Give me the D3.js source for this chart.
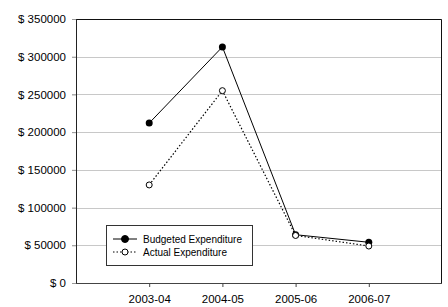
<!DOCTYPE html>
<html>
<head>
<meta charset="utf-8">
<script src="https://cdn.jsdelivr.net/npm/d3@7"></script>
<style>
  body { margin: 0; background: #fff; }
  text { font-family: "Liberation Sans", Arial, sans-serif; fill: #000; }
</style>
</head>
<body>
<script>
var years = ["2003-04", "2004-05", "2005-06", "2006-07"];
var budgeted = [212000, 313000, 64000, 54000];
var actual = [130000, 255000, 63000, 49000];
var yTicks = [0, 50000, 100000, 150000, 200000, 250000, 300000, 350000];

var width = 448, height = 307;
var margin = { left: 76, right: 6, top: 19, bottom: 24 };
var plotW = width - margin.left - margin.right;
var plotH = height - margin.top - margin.bottom;

var svg = d3.select("body").append("svg")
  .attr("width", width)
  .attr("height", height);

var g = svg.append("g")
  .attr("transform", "translate(" + margin.left + "," + margin.top + ")");

// categories sit on positions 1..4 of a 0..5 axis
var x = d3.scaleLinear().domain([0, years.length + 1]).range([0, plotW]);
var y = d3.scaleLinear().domain([0, 350000]).range([plotH, 0]);

// gridlines
g.append("g")
  .selectAll("line")
  .data(yTicks.slice(1))
  .enter().append("line")
  .attr("x1", -4)
  .attr("x2", plotW)
  .attr("y1", function(d) { return Math.round(y(d)) + 0.5; })
  .attr("y2", function(d) { return Math.round(y(d)) + 0.5; })
  .attr("stroke", "#c8c8c8")
  .attr("stroke-width", 1);

// plot border (top/right)
g.append("path")
  .attr("d", "M0.5,0.5H" + (plotW - 0.5) + "V" + plotH)
  .attr("fill", "none")
  .attr("stroke", "#111")
  .attr("stroke-width", 1);

// y axis
var yAxis = d3.axisLeft(y)
  .tickValues(yTicks)
  .tickSize(4)
  .tickPadding(6)
  .tickFormat(function(d) { return "$ " + d; });
var ya = g.append("g").call(yAxis);
ya.select(".domain").attr("stroke", "#222").attr("d", "M0.5,0V" + plotH);
ya.selectAll(".tick line").attr("stroke", "#999");
ya.selectAll("text").style("font-size", "11.5px").attr("fill", "#000");

// x axis
var xAxis = d3.axisBottom(x)
  .tickValues(d3.range(1, years.length + 1))
  .tickSize(4)
  .tickPadding(8)
  .tickFormat(function(d) { return years[d - 1]; });
var xa = g.append("g")
  .attr("transform", "translate(0," + plotH + ")")
  .call(xAxis);
xa.select(".domain").attr("stroke", "#444").attr("d", "M0,0.5H" + plotW);
xa.selectAll(".tick line").attr("stroke", "#444");
xa.selectAll("text").style("font-size", "11.5px").attr("fill", "#000");

var line = d3.line()
  .x(function(d, i) { return x(i + 1); })
  .y(function(d) { return y(d); });

// budgeted
g.append("path")
  .attr("d", line(budgeted))
  .attr("fill", "none")
  .attr("stroke", "#000")
  .attr("stroke-width", 1);

// actual
g.append("path")
  .attr("d", line(actual))
  .attr("fill", "none")
  .attr("stroke", "#000")
  .attr("stroke-width", 1.2)
  .attr("stroke-dasharray", "1.5,2");

g.selectAll("circle.budget")
  .data(budgeted)
  .enter().append("circle")
  .attr("class", "budget")
  .attr("cx", function(d, i) { return x(i + 1); })
  .attr("cy", function(d) { return y(d); })
  .attr("r", 3.5)
  .attr("fill", "#000");

g.selectAll("circle.actual")
  .data(actual)
  .enter().append("circle")
  .attr("class", "actual")
  .attr("cx", function(d, i) { return x(i + 1); })
  .attr("cy", function(d) { return y(d); })
  .attr("r", 3)
  .attr("fill", "#fff")
  .attr("stroke", "#000")
  .attr("stroke-width", 1);

// legend
var legend = svg.append("g").attr("transform", "translate(106,225)");
legend.append("rect")
  .attr("x", 0.5).attr("y", 0.5)
  .attr("width", 146).attr("height", 40)
  .attr("fill", "#fff")
  .attr("stroke", "#333")
  .attr("stroke-width", 1);

var items = [
  { name: "Budgeted Expenditure", dash: null, fill: "#000", r: 3.5 },
  { name: "Actual Expenditure", dash: "1.5,2", fill: "#fff", r: 3 }
];
items.forEach(function(it, i) {
  var ly = 14 + i * 13;
  legend.append("line")
    .attr("x1", 7).attr("x2", 31)
    .attr("y1", ly).attr("y2", ly)
    .attr("stroke", "#000")
    .attr("stroke-dasharray", it.dash);
  legend.append("circle")
    .attr("cx", 19).attr("cy", ly)
    .attr("r", it.r)
    .attr("fill", it.fill)
    .attr("stroke", "#000");
  legend.append("text")
    .attr("x", 37).attr("y", ly + 3.5)
    .style("font-size", "10px")
    .text(it.name);
});
</script>
</body>
</html>
